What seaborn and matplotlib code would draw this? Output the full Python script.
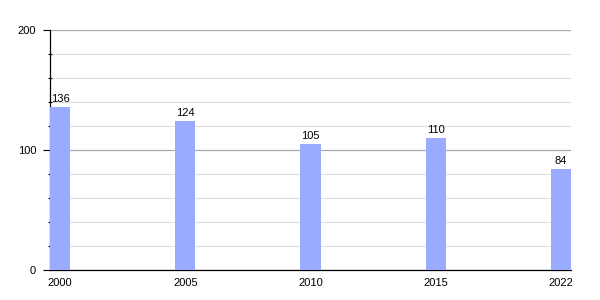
import matplotlib
matplotlib.use("Agg")
import matplotlib.pyplot as plt
import seaborn as sns
import pandas as pd
from matplotlib.ticker import MultipleLocator

years = ["2000", "2005", "2010", "2015", "2022"]
values = [136, 124, 105, 110, 84]

sns.set_style("white")
plt.rcParams['font.family'] = ['Liberation Sans', 'DejaVu Sans']

df = pd.DataFrame({"year": years, "value": values})

fig = plt.figure(figsize=(6, 3), dpi=100)
ax = fig.add_axes([50/600, 30/300, 521/600, 240/300])

sns.barplot(data=df, x="year", y="value", color="#99aaff", saturation=1,
            width=0.16, ax=ax, zorder=3, edgecolor="none", linewidth=0)

ax.set_xlim(-0.08, 4.08)
ax.set_ylim(0, 200)
ax.yaxis.set_major_locator(MultipleLocator(100))
ax.yaxis.set_minor_locator(MultipleLocator(20))
ax.grid(which="major", axis="y", color="#aaaaaa", linewidth=0.9, zorder=0)
ax.grid(which="minor", axis="y", color="#e0e0e0", linewidth=0.9, zorder=0)
ax.set_axisbelow(True)

for s in ["top", "right"]:
    ax.spines[s].set_visible(False)
ax.spines["left"].set_color("black")
ax.spines["bottom"].set_color("black")
ax.spines["left"].set_linewidth(0.9)
ax.spines["bottom"].set_linewidth(0.9)

ax.tick_params(axis="y", which="major", left=True, length=5, width=0.8,
               color="black", labelsize=8, pad=5, labelcolor="black")
ax.tick_params(axis="y", which="minor", left=True, length=3, width=0.8,
               color="black", direction="inout")
ax.tick_params(axis="x", which="both", bottom=False, labelsize=8, pad=2,
               labelcolor="black")
ax.set_xlabel("")
ax.set_ylabel("")

for c in ax.containers:
    ax.bar_label(c, labels=[str(v) for v in values], fontsize=8, padding=2,
                 color="black")

fig.savefig("out.png", dpi=100)
